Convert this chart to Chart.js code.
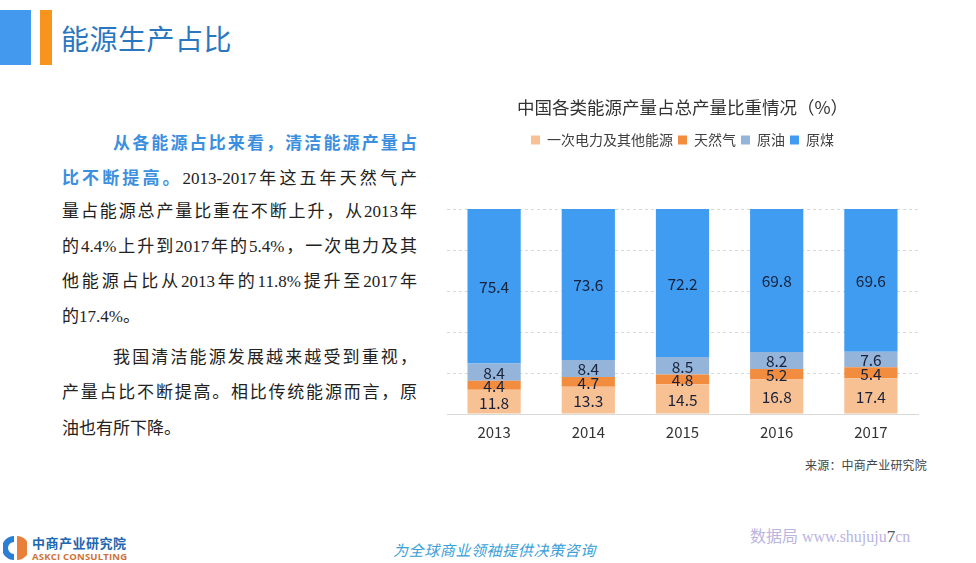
<!DOCTYPE html>
<html>
<head>
<meta charset="utf-8">
<script src="https://cdn.jsdelivr.net/npm/chart.js@4/dist/chart.umd.min.js"></script>
<style>
  html, body { margin: 0; padding: 0; background: #fff; }
  body { width: 976px; height: 563px; position: relative; overflow: hidden; font-family: "Noto Sans CJK SC", sans-serif; }
  .abs { position: absolute; }
  .bar1 { left: 0; top: 10px; width: 31px; height: 55px; background: #4299ee; }
  .bar2 { left: 40px; top: 10px; width: 12px; height: 55px; background: #f7941d; }
  .title { left: 61px; top: 19px; font-size: 28px; line-height: 38px; color: #2a77c0; letter-spacing: 0.5px; }
  .line { position: absolute; left: 62px; width: 355px; height: 24px; line-height: 24px; font-size: 17px; color: #222;
          font-family: "Liberation Serif", "Noto Sans CJK SC", serif; text-align: justify; text-align-last: justify; white-space: nowrap; }
  .line.ind { left: 113px; width: 304px; }
  .line.last { text-align-last: left; }
  .hl { color: #3b8fde; font-weight: bold; font-family: "Noto Sans CJK SC", sans-serif; }
  .chartBox { position: absolute; left: 432px; top: 86px; width: 500px; height: 368px; }
  .src { left: 805px; top: 457px; font-size: 12px; line-height: 18px; color: #444; font-family: "Liberation Serif", "Noto Sans CJK SC", serif; letter-spacing: 0.2px; }
  .slogan { left: 393px; top: 539px; font-size: 15px; line-height: 22px; color: #3aa0d8; font-style: italic; letter-spacing: 0.6px; }
  .brand { left: 750px; top: 526px; font-size: 16px; line-height: 22px; color: #b9b5e0; font-family: "Liberation Serif", "Noto Sans CJK SC", serif; white-space: nowrap; }
  .brand b { color: #555; font-weight: normal; font-size: 17px; }
  .logoT { left: 32px; top: 535px; font-size: 13px; line-height: 16px; color: #2166b0; font-weight: bold; letter-spacing: 0.5px; }
  .logoE { left: 32px; top: 551px; font-size: 9.5px; line-height: 11px; color: #cf7338; font-weight: bold; font-family: "Open Sans", sans-serif; letter-spacing: 0.2px; }
</style>
</head>
<body>
<div class="abs bar1"></div>
<div class="abs bar2"></div>
<div class="abs title">能源生产占比</div>

<div class="line ind" style="top:130px"><span class="hl">从各能源占比来看，清洁能源产量占</span></div>
<div class="line" style="top:165px"><span class="hl">比不断提高。</span>2013-2017年这五年天然气产</div>
<div class="line" style="top:200px">量占能源总产量比重在不断上升，从2013年</div>
<div class="line" style="top:235px">的4.4%上升到2017年的5.4%，一次电力及其</div>
<div class="line" style="top:270px">他能源占比从2013年的11.8%提升至2017年</div>
<div class="line last" style="top:305px">的17.4%。</div>
<div class="line ind" style="top:346px">我国清洁能源发展越来越受到重视，</div>
<div class="line" style="top:381px">产量占比不断提高。相比传统能源而言，原</div>
<div class="line last" style="top:417px">油也有所下降。</div>

<div class="chartBox"><canvas id="energyChart"></canvas></div>
<div class="abs src">来源：中商产业研究院</div>

<svg class="abs" style="left:3px;top:535px" width="24" height="26" viewBox="0 0 24 26">
  <path d="M11 1 A12 12 0 0 0 11 25 L11 19 A6 6 0 0 1 11 7 Z" fill="#2a7fd4"/>
  <path d="M14 1 A12 12 0 0 1 14 25 Z" fill="#e8803a"/>
</svg>
<div class="abs logoT">中商产业研究院</div>
<div class="abs logoE">ASKCI CONSULTING</div>
<div class="abs slogan">为全球商业领袖提供决策咨询</div>
<div class="abs brand">数据局 www.shujuju<b>7</b>cn</div>

<script>
// data
const years = ['2013', '2014', '2015', '2016', '2017'];
const primaryPower = [11.8, 13.3, 14.5, 16.8, 17.4];   // 一次电力及其他能源
const naturalGas = [4.4, 4.7, 4.8, 5.2, 5.4];          // 天然气
const crudeOil = [8.4, 8.4, 8.5, 8.2, 7.6];            // 原油
const rawCoal = [75.4, 73.6, 72.2, 69.8, 69.6];        // 原煤

const FONT = '"Noto Sans CJK SC", "Noto Sans", sans-serif';

// push the plot area down below the legend
const legendGap = {
    id: 'legendGap',
    beforeInit(chart) {
        const fit = chart.legend.fit;
        chart.legend.fit = function () {
            fit.call(this);
            this.height += 52;
        };
    }
};

// value in the middle of every segment
const valueLabels = {
    id: 'valueLabels',
    afterDatasetsDraw(chart) {
        const ctx = chart.ctx;
        ctx.save();
        ctx.font = '15.5px ' + FONT;
        ctx.fillStyle = '#18223d';
        ctx.textAlign = 'center';
        ctx.textBaseline = 'middle';
        chart.data.datasets.forEach((ds, i) => {
            chart.getDatasetMeta(i).data.forEach((bar, j) => {
                const p = bar.getProps(['x', 'y', 'base'], true);
                ctx.fillText(ds.data[j].toFixed(1), p.x, (p.y + p.base) / 2 + 1);
            });
        });
        ctx.restore();
    }
};

new Chart(document.getElementById('energyChart'), {
    type: 'bar',
    data: {
        labels: years,
        datasets: [
            { label: '一次电力及其他能源', data: primaryPower, backgroundColor: '#f8c193' },
            { label: '天然气', data: naturalGas, backgroundColor: '#f28c3f' },
            { label: '原油', data: crudeOil, backgroundColor: '#95b4d9' },
            { label: '原煤', data: rawCoal, backgroundColor: '#3f9cf0' }
        ]
    },
    options: {
        responsive: true,
        maintainAspectRatio: false,
        animation: false,
        datasets: { bar: { categoryPercentage: 1, barPercentage: 0.565 } },
        layout: { padding: { top: 2, left: 15, right: 14, bottom: 4 } },
        plugins: {
            title: {
                display: true,
                text: '中国各类能源产量占总产量比重情况（%）',
                color: '#333',
                font: { family: FONT, size: 17.5, weight: 'normal' },
                padding: { top: 9, bottom: 10 }
            },
            legend: {
                display: true,
                labels: {
                    boxWidth: 9, boxHeight: 9, padding: 5,
                    color: '#404040',
                    font: { family: FONT, size: 14 }
                }
            },
            tooltip: { enabled: false }
        },
        scales: {
            x: {
                stacked: true,
                grid: { display: false, drawTicks: false },
                border: { color: '#d9d9d9' },
                ticks: { color: '#333', padding: 9, font: { family: FONT, size: 15 } }
            },
            y: {
                stacked: true,
                min: 0, max: 100,
                ticks: { display: false, stepSize: 20 },
                grid: { color: '#d9d9d9', drawTicks: false },
                border: { display: false, dash: [3, 3] }
            }
        }
    },
    plugins: [legendGap, valueLabels]
});
</script>
</body>
</html>
